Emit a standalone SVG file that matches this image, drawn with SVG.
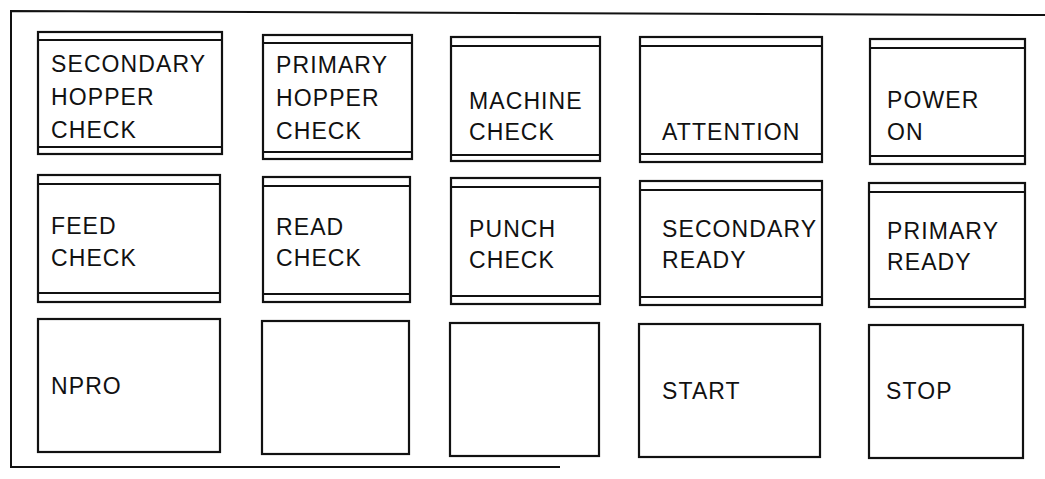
<svg xmlns="http://www.w3.org/2000/svg" width="1045" height="479" viewBox="0 0 1045 479">
<style>
.frame{fill:none;stroke:#111;stroke-width:2}
.box{fill:#fff;stroke:#111;stroke-width:2.2}
.rule{stroke:#111;stroke-width:2}
text{font-family:"Liberation Sans",Arial,sans-serif;font-size:23px;letter-spacing:1.1px;fill:#111}
</style>
<rect width="1045" height="479" fill="#fff"/>
<g id="panel-frame">
<path class="frame" d="M1045,15 L11,11 L11,467 L560,467"/>
</g>
<g id="connectors"></g>
<!-- Row 1 -->
<g id="secondary-hopper-check">
<rect class="box" x="38" y="32" width="184" height="122"/>
<line class="rule" x1="38" y1="40" x2="222" y2="40"/>
<line class="rule" x1="38" y1="147" x2="222" y2="147"/>
<text x="51" y="72">SECONDARY</text>
<text x="51" y="105">HOPPER</text>
<text x="51" y="138">CHECK</text>
</g>
<g id="primary-hopper-check">
<rect class="box" x="263" y="35" width="149" height="124"/>
<line class="rule" x1="263" y1="43" x2="412" y2="43"/>
<line class="rule" x1="263" y1="152" x2="412" y2="152"/>
<text x="276" y="73">PRIMARY</text>
<text x="276" y="106">HOPPER</text>
<text x="276" y="139">CHECK</text>
</g>
<g id="machine-check">
<rect class="box" x="451" y="37" width="149" height="124"/>
<line class="rule" x1="451" y1="46" x2="600" y2="46"/>
<line class="rule" x1="451" y1="155" x2="600" y2="155"/>
<text x="469" y="109">MACHINE</text>
<text x="469" y="140">CHECK</text>
</g>
<g id="attention">
<rect class="box" x="640" y="37" width="182" height="125"/>
<line class="rule" x1="640" y1="46" x2="822" y2="46"/>
<line class="rule" x1="640" y1="154" x2="822" y2="154"/>
<text x="662" y="140">ATTENTION</text>
</g>
<g id="power-on">
<rect class="box" x="870" y="39" width="155" height="125"/>
<line class="rule" x1="870" y1="48" x2="1025" y2="48"/>
<line class="rule" x1="870" y1="156" x2="1025" y2="156"/>
<text x="887" y="108">POWER</text>
<text x="887" y="140">ON</text>
</g>
<!-- Row 2 -->
<g id="feed-check">
<rect class="box" x="38" y="175" width="182" height="127"/>
<line class="rule" x1="38" y1="184" x2="220" y2="184"/>
<line class="rule" x1="38" y1="293" x2="220" y2="293"/>
<text x="51" y="234">FEED</text>
<text x="51" y="266">CHECK</text>
</g>
<g id="read-check">
<rect class="box" x="263" y="177" width="147" height="125"/>
<line class="rule" x1="263" y1="186" x2="410" y2="186"/>
<line class="rule" x1="263" y1="294" x2="410" y2="294"/>
<text x="276" y="235">READ</text>
<text x="276" y="266">CHECK</text>
</g>
<g id="punch-check">
<rect class="box" x="451" y="178" width="149" height="126"/>
<line class="rule" x1="451" y1="187" x2="600" y2="187"/>
<line class="rule" x1="451" y1="296" x2="600" y2="296"/>
<text x="469" y="237">PUNCH</text>
<text x="469" y="268">CHECK</text>
</g>
<g id="secondary-ready">
<rect class="box" x="640" y="181" width="182" height="124"/>
<line class="rule" x1="640" y1="190" x2="822" y2="190"/>
<line class="rule" x1="640" y1="297" x2="822" y2="297"/>
<text x="662" y="237">SECONDARY</text>
<text x="662" y="268">READY</text>
</g>
<g id="primary-ready">
<rect class="box" x="869" y="183" width="156" height="124"/>
<line class="rule" x1="869" y1="192" x2="1025" y2="192"/>
<line class="rule" x1="869" y1="299" x2="1025" y2="299"/>
<text x="887" y="239">PRIMARY</text>
<text x="887" y="270">READY</text>
</g>
<!-- Row 3 -->
<g id="npro">
<rect class="box" x="38" y="319" width="182" height="133"/>
<text x="51" y="394">NPRO</text>
</g>
<g id="blank-2">
<rect class="box" x="262" y="321" width="147" height="133"/>
</g>
<g id="blank-3">
<rect class="box" x="450" y="323" width="149" height="133"/>
</g>
<g id="start">
<rect class="box" x="639" y="324" width="181" height="133"/>
<text x="662" y="399">START</text>
</g>
<g id="stop">
<rect class="box" x="869" y="325" width="154" height="133"/>
<text x="886" y="399">STOP</text>
</g>
</svg>
